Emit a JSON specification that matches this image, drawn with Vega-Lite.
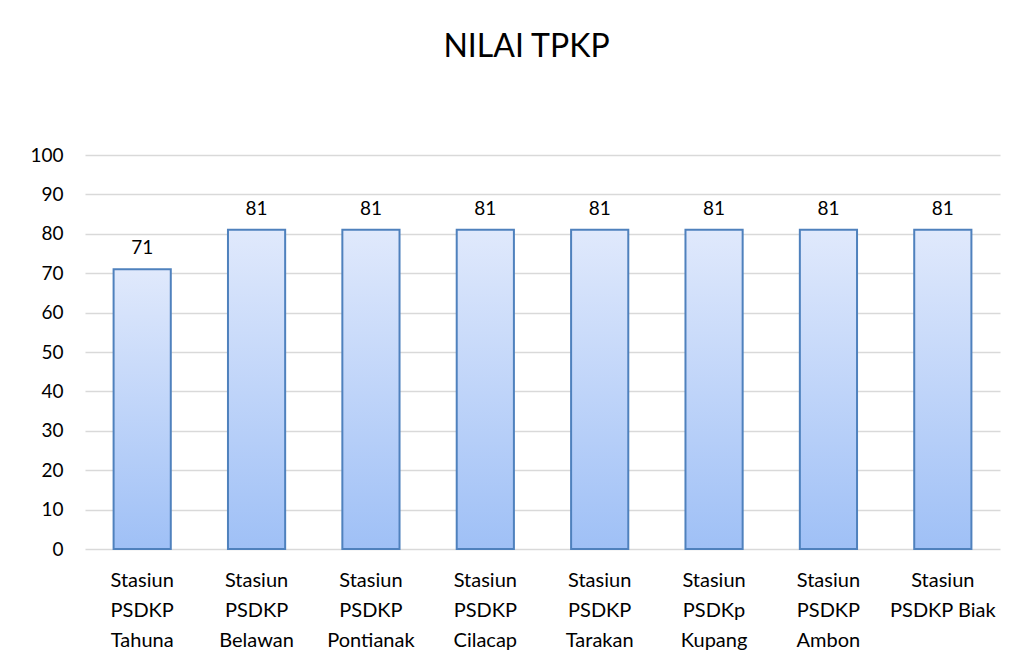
{
  "$schema": "https://vega.github.io/schema/vega-lite/v6.json",
  "width": 915,
  "height": 394,
  "autosize": {"type": "none"},
  "padding": {"left": 85, "top": 155, "right": 22, "bottom": 117},
  "background": "white",
  "title": {
    "text": "NILAI TPKP",
    "fontSize": 32,
    "font": "Lato",
    "fontWeight": "normal",
    "color": "#000000",
    "anchor": "middle",
    "offset": 82,
    "dx": -16
  },
  "data": {
    "values": [
      {"stasiun": "Stasiun PSDKP Tahuna", "nilai": 71},
      {"stasiun": "Stasiun PSDKP Belawan", "nilai": 81},
      {"stasiun": "Stasiun PSDKP Pontianak", "nilai": 81},
      {"stasiun": "Stasiun PSDKP Cilacap", "nilai": 81},
      {"stasiun": "Stasiun PSDKP Tarakan", "nilai": 81},
      {"stasiun": "Stasiun PSDKp Kupang", "nilai": 81},
      {"stasiun": "Stasiun PSDKP Ambon", "nilai": 81},
      {"stasiun": "Stasiun PSDKP Biak", "nilai": 81}
    ]
  },
  "encoding": {
    "x": {
      "field": "stasiun",
      "type": "nominal",
      "sort": null,
      "scale": {"paddingInner": 0.5, "paddingOuter": 0.25},
      "axis": {
        "title": null,
        "labelAngle": 0,
        "labelFont": "Lato",
        "labelFontSize": 20,
        "labelColor": "#000000",
        "labelLineHeight": 30,
        "labelPadding": 21,
        "labelLimit": 200,
        "ticks": false,
        "domain": false,
        "labelExpr": "datum.value == 'Stasiun PSDKP Biak' ? ['Stasiun', 'PSDKP Biak'] : split(datum.value, ' ')"
      }
    },
    "y": {
      "field": "nilai",
      "type": "quantitative",
      "scale": {"domain": [0, 100]},
      "axis": {
        "title": null,
        "values": [0, 10, 20, 30, 40, 50, 60, 70, 80, 90, 100],
        "labelFont": "Lato",
        "labelFontSize": 19,
        "labelColor": "#000000",
        "labelPadding": 22,
        "ticks": false,
        "domain": false,
        "grid": true,
        "gridColor": "#d9d9d9",
        "gridWidth": 1.5
      }
    }
  },
  "layer": [
    {
      "mark": {
        "type": "bar",
        "stroke": "#4f81bd",
        "strokeWidth": 2,
        "fill": {
          "gradient": "linear",
          "x1": 0, "y1": 0, "x2": 0, "y2": 1,
          "stops": [
            {"offset": 0, "color": "#e0e9fc"},
            {"offset": 1, "color": "#9fc0f6"}
          ]
        }
      }
    },
    {
      "mark": {
        "type": "text",
        "baseline": "bottom",
        "dy": -11,
        "font": "Lato",
        "fontSize": 19,
        "color": "#000000"
      },
      "encoding": {"text": {"field": "nilai", "type": "quantitative"}}
    }
  ],
  "config": {"view": {"stroke": null}}
}
